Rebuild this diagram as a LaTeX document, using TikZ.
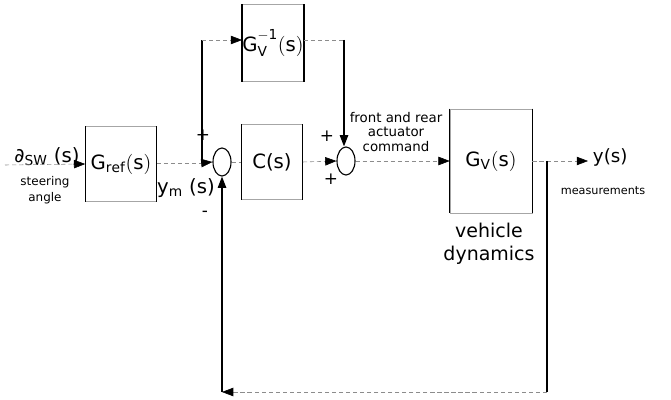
\documentclass[tikz,border=0pt]{standalone}
\usepackage{fontspec}
\setmainfont{DejaVu Sans}
\setsansfont{DejaVu Sans}
\usetikzlibrary{arrows.meta,shapes.geometric}

\tikzset{
  blk/.style = {rectangle, draw=black!35, thin, inner sep=0pt, font=\fontsize{14}{16}\selectfont},
  sumpt/.style = {ellipse, draw, thick, minimum width=0.45cm, minimum height=0.7cm, inner sep=0pt},
  sig/.style = {draw=black!45, densely dashed, thin},
  wire/.style = {draw, thick},
  lbl/.style = {font=\fontsize{8.5}{11}\selectfont, align=center},
  sgn/.style = {font=\fontsize{12}{12}\selectfont}
}

\begin{document}
\begin{tikzpicture}[x=0.025cm, y=-0.025cm, >={Triangle[length=8pt, width=6pt, color=black]}]
\useasboundingbox (0,0) rectangle (671,400);

% blocks
\node [blk, minimum width=1.775cm, minimum height=1.875cm] (gref) at (121,164) {$\mathsf{G_{ref}(s)}$};
\node [blk, minimum width=1.5cm, minimum height=1.925cm] (ginv) at (273,43) {$\mathsf{G_{V}^{-1}(s)}$};
\node [blk, minimum width=1.525cm, minimum height=1.875cm] (ctrl) at (272,162) {C(s)};
\node [blk, minimum width=2.05cm, minimum height=2.6cm] (gv) at (491,161) {$\mathsf{G_{V}(s)}$};
\foreach \b in {gref,ginv,ctrl,gv}
  \draw [thick] (\b.north west) -- (\b.south west) (\b.north east) -- (\b.south east);

% summing points
\node [sumpt] (sum1) at (222,162) {};
\node [sumpt] (sum2) at (346,161) {};

% texts
\node [font=\fontsize{14}{16}\selectfont] (din) at (47,157) {∂\textsubscript{SW} (s)};
\node [lbl] (steer) at (45,190) {steering\\angle};
\node [font=\fontsize{14}{16}\selectfont] (ym) at (186,188) {$\mathsf{y_m}$ (s)};
\node [sgn] (p1) at (203,135) {+};
\node [sgn] (m1) at (205,214) {-};
\node [sgn] (p2) at (327,136) {+};
\node [sgn] (p3) at (331,179) {+};
\node [font=\fontsize{9.5}{10.5}\selectfont, align=center] (act) at (396,132) {front and rear\\actuator\\command};
\node [font=\fontsize{13.5}{16}\selectfont, align=center] (veh) at (489,244) {vehicle\\dynamics};
\node [font=\fontsize{13}{15}\selectfont, anchor=west] (yout) at (588,157) {y(s)};
\node [lbl, font=\fontsize{8}{10}\selectfont] (meas) at (603,191) {measurements};

% connectors
\coordinate (in) at (5,165);
\coordinate (br) at (202,163);
\coordinate (top) at (344,40);
\coordinate (tap) at (547,161);
\coordinate (fbR) at (547,392);
\coordinate (fbL) at (222,392);

\draw [sig, ->] (in) -- (gref.west);
\draw [sig] (gref.east |- br) -- (br);
\draw [sig, ->] (br) -- (sum1.west);
\draw [wire] (br) -- (br |- top);
\draw [sig, ->] (br |- top) -- (ginv.west |- top);
\draw [sig] (ginv.east |- top) -- (top);
\draw [wire, ->] (top) -- (top |- sum2.north);
\draw [sig] (sum1.east) -- (ctrl.west);
\draw [sig, ->] (ctrl.east) -- (sum2.west);
\draw [sig, ->] (sum2.east) -- (gv.west);
\draw [sig] (gv.east) -- (tap);
\draw [sig, ->] (tap) -- (tap -| yout.west);
\draw [wire] (tap) -- (fbR);
\draw [sig, ->] (fbR) -- (fbL);
\draw [wire, ->] (fbL) -- (sum1.south);
\end{tikzpicture}
\end{document}
